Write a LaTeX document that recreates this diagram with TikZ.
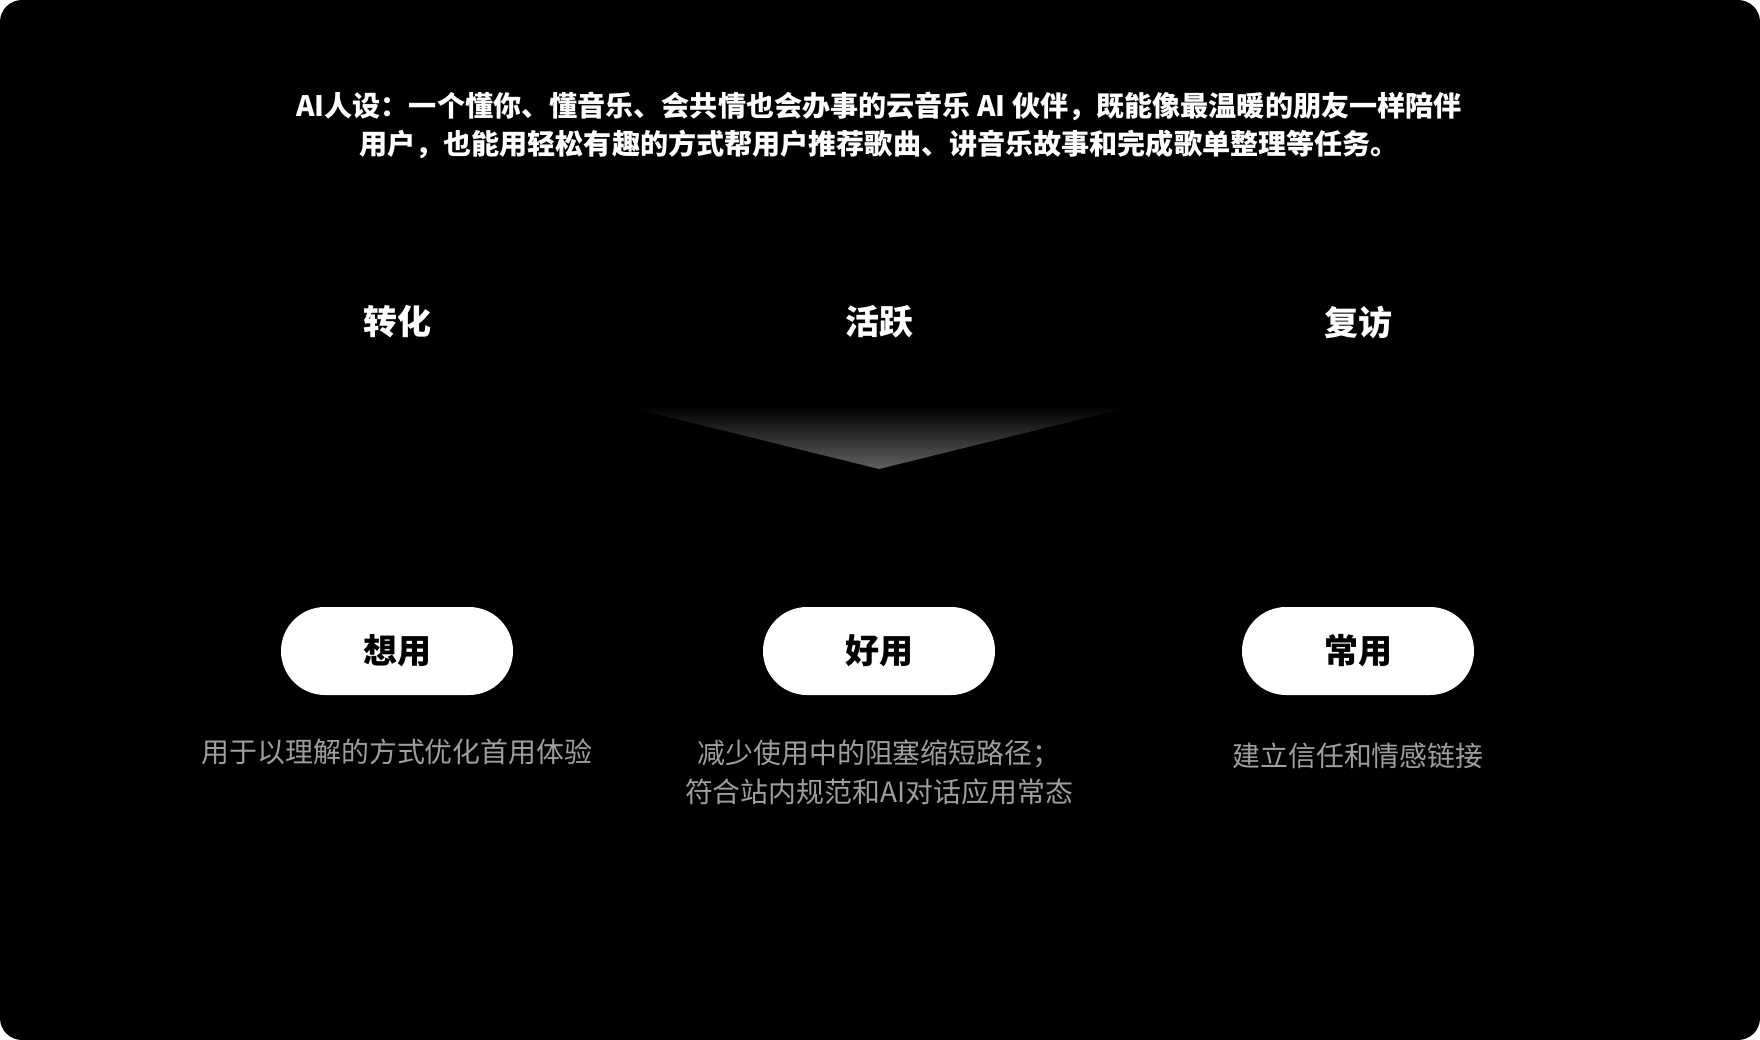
\documentclass[tikz,border=0pt]{standalone}
\usepackage{fontspec}
\setmainfont{Noto Sans CJK SC}
\usepackage{xcolor}
\usepackage{tikz}

\definecolor{descgray}{RGB}{158,158,158}
\definecolor{tipgray}{RGB}{96,96,96}

\begin{document}
\begin{tikzpicture}[x=1pt,y=-1pt,
		heading/.style={text=white,font=\fontsize{34}{40}\selectfont\bfseries},
		pill/.style={fill=white,rounded corners=44pt,minimum width=232pt,
			minimum height=88pt,inner sep=0pt,font=\fontsize{34}{40}\selectfont\bfseries},
		desc/.style={text=descgray,align=center,font=\fontsize{27.9}{39}\selectfont}]
	\useasboundingbox (0,0) rectangle (1760,1040);
	\fill[white] (0,0) rectangle (1760,1040);
	\fill[black,rounded corners=22pt] (0,0) rectangle (1760,1040);
	\node[text=white,align=center,font=\fontsize{28.1}{38}\selectfont\bfseries] (title) at (879,125)
		{AI人设：一个懂你、懂音乐、会共情也会办事的云音乐 AI 伙伴，既能像最温暖的朋友一样陪伴\\
		用户，也能用轻松有趣的方式帮用户推荐歌曲、讲音乐故事和完成歌单整理等任务。};
	\foreach \X/\H/\P [count=\i] in {397/转化/想用, 879/活跃/好用, 1358/复访/常用}
	{\node[heading] (h\i) at (\X,322) {\H};
		\node[pill] (p\i) at (\X,651) {\P};}
	% funnel under the middle heading
	\shade[top color=black,bottom color=tipgray] (624,406) -- (1134,406) -- (879,469) -- cycle;
	\node[desc] (d1) at (397,752) {用于以理解的方式优化首用体验};
	\node[desc] (d2) at (879,772) {减少使用中的阻塞缩短路径；\\符合站内规范和AI对话应用常态};
	\node[desc] (d3) at (1358,756) {建立信任和情感链接};
\end{tikzpicture}
\end{document}
